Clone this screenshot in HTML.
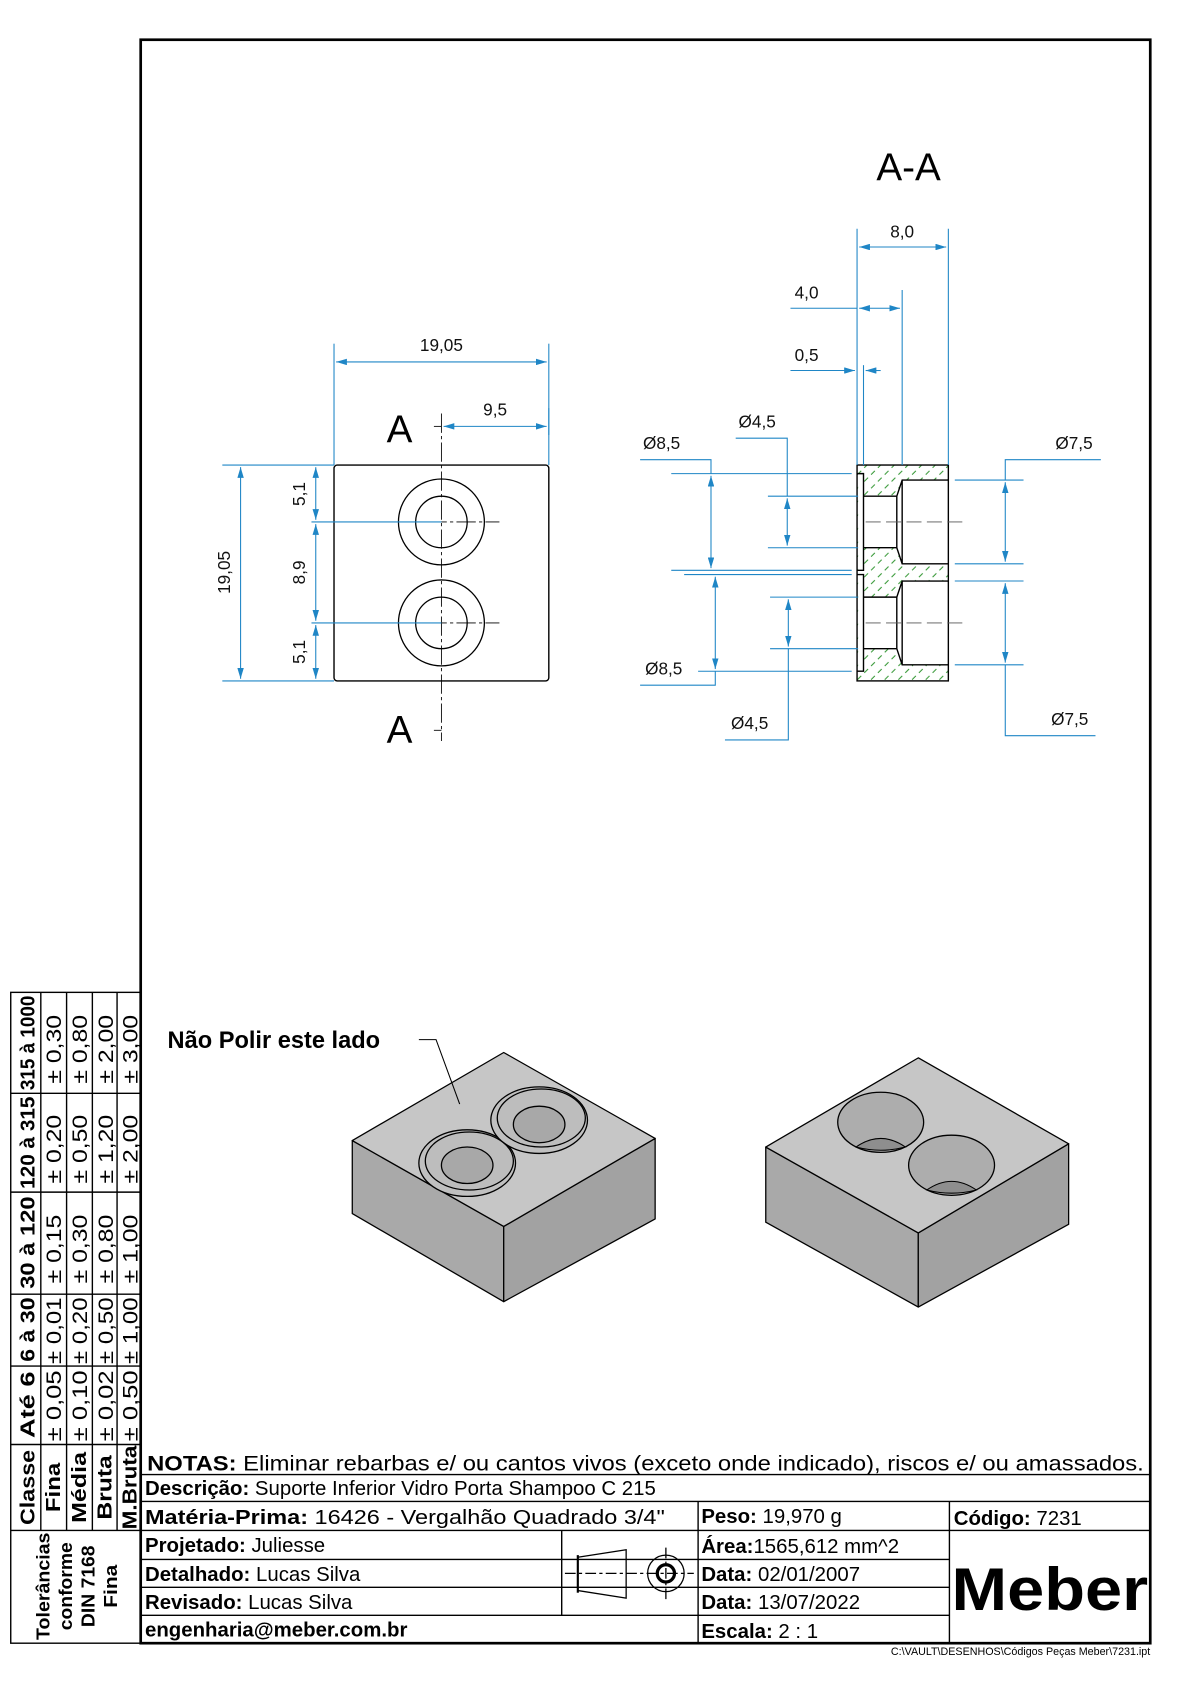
<!DOCTYPE html>
<html><head><meta charset="utf-8"><style>
html,body{margin:0;padding:0;background:#fff}
svg{display:block}
text{font-family:"Liberation Sans",Arial,sans-serif}
</style></head><body>
<svg width="1190" height="1684" viewBox="0 0 1108 1568" preserveAspectRatio="none" xmlns="http://www.w3.org/2000/svg">
<defs>
<pattern id="h" patternUnits="userSpaceOnUse" width="9" height="9" patternTransform="rotate(-45)">
<line x1="0" y1="4" x2="5" y2="4" stroke="#3a9a3a" stroke-width="1"/>
</pattern>
<marker id="a" viewBox="0 0 10 6" refX="10" refY="3" markerWidth="10" markerHeight="6" orient="auto-start-reverse" markerUnits="userSpaceOnUse"><path d="M0,0L10,3L0,6z" fill="#1f86c6"/></marker>
</defs>
<rect x="131" y="37" width="940" height="1493" fill="none" stroke="#000" stroke-width="2.5"/>

<rect x="311" y="433" width="200" height="201" rx="3" fill="none" stroke="#000" stroke-width="1.3"/>
<g fill="none" stroke="#000" stroke-width="1.2">
<circle cx="411" cy="486" r="40"/><circle cx="411" cy="486" r="24"/>
<circle cx="411" cy="580" r="40"/><circle cx="411" cy="580" r="24"/>
</g>
<g stroke="#000" stroke-width="0.8">
<line x1="411" y1="385" x2="411" y2="690" stroke-dasharray="18,3,3,3"/>
<line x1="371" y1="486" x2="465" y2="486" stroke-dasharray="18,3,3,3"/>
<line x1="371" y1="580" x2="465" y2="580" stroke-dasharray="18,3,3,3"/>
<line x1="404" y1="397" x2="411" y2="397"/><line x1="404" y1="680" x2="411" y2="680"/>
</g>
<text x="372" y="412" font-size="36" text-anchor="middle">A</text>
<text x="372" y="692" font-size="36" text-anchor="middle">A</text>

<g stroke="#1f86c6" stroke-width="1" fill="none">
<line x1="311" y1="320" x2="311" y2="433"/><line x1="511" y1="320" x2="511" y2="433"/>
<line x1="313" y1="337" x2="509" y2="337" marker-start="url(#a)" marker-end="url(#a)"/>
<line x1="511" y1="380" x2="511" y2="405"/>
<line x1="413" y1="397" x2="509" y2="397" marker-start="url(#a)" marker-end="url(#a)"/>
<line x1="207" y1="433" x2="311" y2="433"/><line x1="207" y1="634" x2="311" y2="634"/>
<line x1="224" y1="435" x2="224" y2="632" marker-start="url(#a)" marker-end="url(#a)"/>
<line x1="290" y1="486" x2="411" y2="486"/><line x1="290" y1="580" x2="411" y2="580"/>
<line x1="294" y1="435" x2="294" y2="484" marker-start="url(#a)" marker-end="url(#a)"/>
<line x1="294" y1="488" x2="294" y2="578" marker-start="url(#a)" marker-end="url(#a)"/>
<line x1="294" y1="582" x2="294" y2="632" marker-start="url(#a)" marker-end="url(#a)"/>
</g>
<g font-size="16" fill="#111">
<text x="411" y="327" text-anchor="middle">19,05</text>
<text x="461" y="387" text-anchor="middle">9,5</text>
<text transform="translate(214,533) rotate(-90)" text-anchor="middle">19,05</text>
<text transform="translate(284,460) rotate(-90)" text-anchor="middle">5,1</text>
<text transform="translate(284,533) rotate(-90)" text-anchor="middle">8,9</text>
<text transform="translate(284,607) rotate(-90)" text-anchor="middle">5,1</text>
</g>

<text x="846" y="168" font-size="36" text-anchor="middle">A-A</text>
<rect x="798" y="433" width="85" height="201" fill="url(#h)"/>
<g fill="#fff">
<rect x="799" y="441" width="5" height="90"/><rect x="799" y="535" width="5" height="90"/>
<path d="M804,462H835L840,447H883V525H840L835,510H804z"/>
<path d="M804,556H835L840,541H883V619H840L835,604H804z"/>
</g>
<g fill="none" stroke="#000" stroke-width="1.3">
<rect x="798" y="433" width="85" height="201"/>
<path d="M798,441H804V531H798"/><path d="M798,535H804V625H798"/>
<path d="M804,462H835L840,447H883M804,510H835L840,525H883M835,462V510M840,447V525"/>
<path d="M804,556H835L840,541H883M804,604H835L840,619H883M835,556V604M840,541V619"/>
</g>
<g stroke="#555" stroke-width="0.8" stroke-dasharray="14,5">
<line x1="806" y1="486" x2="896" y2="486"/><line x1="806" y1="580" x2="896" y2="580"/>
</g>
<g stroke="#1f86c6" stroke-width="1" fill="none">
<line x1="798" y1="213" x2="798" y2="433"/><line x1="883" y1="213" x2="883" y2="433"/>
<line x1="800" y1="230" x2="881" y2="230" marker-start="url(#a)" marker-end="url(#a)"/>
<line x1="840" y1="270" x2="840" y2="433"/>
<line x1="736" y1="287" x2="798" y2="287"/>
<line x1="800" y1="287" x2="838" y2="287" marker-start="url(#a)" marker-end="url(#a)"/>
<line x1="804" y1="340" x2="804" y2="433"/>
<line x1="736" y1="345" x2="796" y2="345" marker-end="url(#a)"/>
<line x1="820" y1="345" x2="806" y2="345" marker-end="url(#a)"/>
<line x1="625" y1="441" x2="793" y2="441"/><line x1="625" y1="531" x2="793" y2="531"/>
<polyline points="596,428 662,428 662,441"/>
<line x1="662" y1="443" x2="662" y2="529" marker-start="url(#a)" marker-end="url(#a)"/>
<line x1="715" y1="462" x2="799" y2="462"/><line x1="715" y1="510" x2="799" y2="510"/>
<polyline points="685,408 733,408 733,462"/>
<line x1="733" y1="464" x2="733" y2="508" marker-start="url(#a)" marker-end="url(#a)"/>
<line x1="637" y1="535" x2="793" y2="535"/><line x1="650" y1="625" x2="793" y2="625"/>
<line x1="666" y1="537" x2="666" y2="623" marker-start="url(#a)" marker-end="url(#a)"/>
<polyline points="666,625 666,638 596,638"/>
<line x1="717" y1="556" x2="799" y2="556"/><line x1="717" y1="604" x2="799" y2="604"/>
<line x1="734" y1="558" x2="734" y2="602" marker-start="url(#a)" marker-end="url(#a)"/>
<polyline points="734,604 734,689 675,689"/>
<line x1="889" y1="447" x2="953" y2="447"/><line x1="889" y1="525" x2="953" y2="525"/>
<polyline points="1025,428 936,428 936,447"/>
<line x1="936" y1="449" x2="936" y2="523" marker-start="url(#a)" marker-end="url(#a)"/>
<line x1="889" y1="541" x2="953" y2="541"/><line x1="889" y1="619" x2="953" y2="619"/>
<line x1="936" y1="543" x2="936" y2="617" marker-start="url(#a)" marker-end="url(#a)"/>
<polyline points="936,619 936,685 1020,685"/>
</g>
<g font-size="16" fill="#111">
<text x="840" y="221" text-anchor="middle">8,0</text>
<text x="751" y="278" text-anchor="middle">4,0</text>
<text x="751" y="336" text-anchor="middle">0,5</text>
<text x="616" y="418" text-anchor="middle">Ø8,5</text>
<text x="705" y="398" text-anchor="middle">Ø4,5</text>
<text x="1000" y="418" text-anchor="middle">Ø7,5</text>
<text x="618" y="628" text-anchor="middle">Ø8,5</text>
<text x="698" y="679" text-anchor="middle">Ø4,5</text>
<text x="996" y="675" text-anchor="middle">Ø7,5</text>
</g>

<g stroke="#000" stroke-width="1.2" stroke-linejoin="round">
<path d="M328,1062L469,1142L469,1212L328,1130z" fill="#a9a9a9"/>
<path d="M610,1060L469,1142L469,1212L610,1135z" fill="#a2a2a2"/>
<path d="M469,980L610,1060L469,1142L328,1062z" fill="#c6c6c6"/>
<ellipse cx="435" cy="1083" rx="45" ry="31" fill="#c0c0c0"/>
<ellipse cx="437" cy="1081" rx="41" ry="27" fill="#bdbdbd"/>
<ellipse cx="435" cy="1085" rx="24" ry="17" fill="#a8a8a8"/>
<ellipse cx="502" cy="1043" rx="45" ry="31" fill="#c0c0c0"/>
<ellipse cx="504" cy="1041" rx="41" ry="27" fill="#bdbdbd"/>
<ellipse cx="502" cy="1047" rx="24" ry="17" fill="#a8a8a8"/>
<path d="M713,1068L855,1148L855,1217L713,1138z" fill="#a9a9a9"/>
<path d="M995,1065L855,1148L855,1217L995,1140z" fill="#a2a2a2"/>
<path d="M855,985L995,1065L855,1148L713,1068z" fill="#c6c6c6"/>
<ellipse cx="820" cy="1045" rx="40" ry="28" fill="#adadad"/>
<ellipse cx="886" cy="1085" rx="40" ry="28" fill="#adadad"/>
</g>
<g stroke="#000" stroke-width="1" fill="#8e8e8e">
<path d="M797,1068Q820,1052 843,1068Q820,1074 797,1068z"/><path d="M863,1108Q886,1092 909,1108Q886,1114 863,1108z"/>
</g>
<polyline points="390,968 406,968 428,1028" stroke="#000" stroke-width="1" fill="none"/>
<text x="156" y="976" font-size="22" font-weight="bold">Não Polir este lado</text>

<g stroke="#000" stroke-width="1.3" fill="none">
<rect x="10" y="924" width="121" height="606"/>
<line x1="38" y1="924" x2="38" y2="1425"/><line x1="62" y1="924" x2="62" y2="1425"/>
<line x1="86" y1="924" x2="86" y2="1425"/><line x1="109" y1="924" x2="109" y2="1425"/>
<line x1="10" y1="1018" x2="131" y2="1018"/><line x1="10" y1="1110" x2="131" y2="1110"/>
<line x1="10" y1="1205" x2="131" y2="1205"/><line x1="10" y1="1272" x2="131" y2="1272"/>
<line x1="10" y1="1345" x2="131" y2="1345"/><line x1="10" y1="1425" x2="131" y2="1425"/>
</g>
<g font-size="19">
<g font-weight="bold">
<text transform="translate(32,971) rotate(-90)" text-anchor="middle" textLength="88" lengthAdjust="spacingAndGlyphs">315 à 1000</text>
<text transform="translate(32,1064) rotate(-90)" text-anchor="middle" textLength="86" lengthAdjust="spacingAndGlyphs">120 à 315</text>
<text transform="translate(32,1157) rotate(-90)" text-anchor="middle" textLength="86" lengthAdjust="spacingAndGlyphs">30 à 120</text>
<text transform="translate(32,1238) rotate(-90)" text-anchor="middle" textLength="60" lengthAdjust="spacingAndGlyphs">6 à 30</text>
<text transform="translate(32,1308) rotate(-90)" text-anchor="middle" textLength="62" lengthAdjust="spacingAndGlyphs">Até 6</text>
<text transform="translate(32,1385) rotate(-90)" text-anchor="middle" textLength="70" lengthAdjust="spacingAndGlyphs">Classe</text>
<text transform="translate(56,1385) rotate(-90)" text-anchor="middle" textLength="46" lengthAdjust="spacingAndGlyphs">Fina</text>
<text transform="translate(80,1385) rotate(-90)" text-anchor="middle" textLength="66" lengthAdjust="spacingAndGlyphs">Média</text>
<text transform="translate(104,1385) rotate(-90)" text-anchor="middle" textLength="60" lengthAdjust="spacingAndGlyphs">Bruta</text>
<text transform="translate(127,1385) rotate(-90)" text-anchor="middle" textLength="78" lengthAdjust="spacingAndGlyphs">M.Bruta</text>
</g>
<g font-size="20">
<text transform="translate(57,977) rotate(-90)" text-anchor="middle" textLength="64" lengthAdjust="spacingAndGlyphs">± 0,30</text>
<text transform="translate(81,977) rotate(-90)" text-anchor="middle" textLength="64" lengthAdjust="spacingAndGlyphs">± 0,80</text>
<text transform="translate(105,977) rotate(-90)" text-anchor="middle" textLength="64" lengthAdjust="spacingAndGlyphs">± 2,00</text>
<text transform="translate(128,977) rotate(-90)" text-anchor="middle" textLength="64" lengthAdjust="spacingAndGlyphs">± 3,00</text>
<text transform="translate(57,1070) rotate(-90)" text-anchor="middle" textLength="64" lengthAdjust="spacingAndGlyphs">± 0,20</text>
<text transform="translate(81,1070) rotate(-90)" text-anchor="middle" textLength="64" lengthAdjust="spacingAndGlyphs">± 0,50</text>
<text transform="translate(105,1070) rotate(-90)" text-anchor="middle" textLength="64" lengthAdjust="spacingAndGlyphs">± 1,20</text>
<text transform="translate(128,1070) rotate(-90)" text-anchor="middle" textLength="64" lengthAdjust="spacingAndGlyphs">± 2,00</text>
<text transform="translate(57,1163) rotate(-90)" text-anchor="middle" textLength="64" lengthAdjust="spacingAndGlyphs">± 0,15</text>
<text transform="translate(81,1163) rotate(-90)" text-anchor="middle" textLength="64" lengthAdjust="spacingAndGlyphs">± 0,30</text>
<text transform="translate(105,1163) rotate(-90)" text-anchor="middle" textLength="64" lengthAdjust="spacingAndGlyphs">± 0,80</text>
<text transform="translate(128,1163) rotate(-90)" text-anchor="middle" textLength="64" lengthAdjust="spacingAndGlyphs">± 1,00</text>
<text transform="translate(57,1239) rotate(-90)" text-anchor="middle" textLength="62" lengthAdjust="spacingAndGlyphs">± 0,01</text>
<text transform="translate(81,1239) rotate(-90)" text-anchor="middle" textLength="62" lengthAdjust="spacingAndGlyphs">± 0,20</text>
<text transform="translate(105,1239) rotate(-90)" text-anchor="middle" textLength="62" lengthAdjust="spacingAndGlyphs">± 0,50</text>
<text transform="translate(128,1239) rotate(-90)" text-anchor="middle" textLength="62" lengthAdjust="spacingAndGlyphs">± 1,00</text>
<text transform="translate(57,1309) rotate(-90)" text-anchor="middle" textLength="66" lengthAdjust="spacingAndGlyphs">± 0,05</text>
<text transform="translate(81,1309) rotate(-90)" text-anchor="middle" textLength="66" lengthAdjust="spacingAndGlyphs">± 0,10</text>
<text transform="translate(105,1309) rotate(-90)" text-anchor="middle" textLength="66" lengthAdjust="spacingAndGlyphs">± 0,02</text>
<text transform="translate(128,1309) rotate(-90)" text-anchor="middle" textLength="66" lengthAdjust="spacingAndGlyphs">± 0,50</text>
</g>
</g>
<g font-size="17" font-weight="bold" text-anchor="middle">
<text transform="translate(46,1477) rotate(-90)" textLength="100" lengthAdjust="spacingAndGlyphs">Tolerâncias</text>
<text transform="translate(67,1477) rotate(-90)" textLength="82" lengthAdjust="spacingAndGlyphs">conforme</text>
<text transform="translate(88,1477) rotate(-90)" textLength="76" lengthAdjust="spacingAndGlyphs">DIN 7168</text>
<text transform="translate(109,1477) rotate(-90)" textLength="40" lengthAdjust="spacingAndGlyphs">Fina</text>
</g>

<g stroke="#000" stroke-width="1.3">
<line x1="131" y1="1373" x2="1071" y2="1373"/>
<line x1="131" y1="1398" x2="1071" y2="1398"/>
<line x1="131" y1="1425" x2="1071" y2="1425"/>
<line x1="131" y1="1452" x2="884" y2="1452"/>
<line x1="131" y1="1478" x2="884" y2="1478"/>
<line x1="131" y1="1504" x2="884" y2="1504"/>
<line x1="650" y1="1398" x2="650" y2="1530"/>
<line x1="884" y1="1398" x2="884" y2="1530"/>
<line x1="523" y1="1425" x2="523" y2="1504"/>
</g>
<g stroke="#000" stroke-width="1.2" fill="none">
<path d="M538,1450L583,1443V1488L538,1481z"/>
<line x1="538" y1="1448" x2="538" y2="1483" stroke-width="2"/>
<line x1="526" y1="1465" x2="646" y2="1465" stroke-dasharray="10,3,3,3"/>
<line x1="620" y1="1441" x2="620" y2="1490" stroke-dasharray="10,3,3,3"/>
<circle cx="620" cy="1465" r="17"/><circle cx="620" cy="1465" r="8" stroke-width="3"/>
</g>
<g font-size="20">
<text x="137" y="1369" textLength="928" lengthAdjust="spacingAndGlyphs"><tspan font-weight="bold">NOTAS:</tspan> Eliminar rebarbas e/ ou cantos vivos (exceto onde indicado), riscos e/ ou amassados.</text>
<text x="135" y="1392" font-size="19"><tspan font-weight="bold">Descrição:</tspan> Suporte Inferior Vidro Porta Shampoo C 215</text>
<text x="135" y="1419" font-size="19" textLength="484" lengthAdjust="spacingAndGlyphs"><tspan font-weight="bold">Matéria-Prima:</tspan> 16426 - Vergalhão Quadrado 3/4"</text>
<text x="135" y="1445" font-size="19"><tspan font-weight="bold">Projetado:</tspan> Juliesse</text>
<text x="135" y="1472" font-size="19"><tspan font-weight="bold">Detalhado:</tspan> Lucas Silva</text>
<text x="135" y="1498" font-size="19"><tspan font-weight="bold">Revisado:</tspan> Lucas Silva</text>
<text x="135" y="1524" font-size="19" font-weight="bold">engenharia@meber.com.br</text>
<text x="653" y="1418" font-size="19"><tspan font-weight="bold">Peso:</tspan> 19,970 g</text>
<text x="653" y="1446" font-size="19"><tspan font-weight="bold">Área:</tspan>1565,612 mm^2</text>
<text x="653" y="1472" font-size="19"><tspan font-weight="bold">Data:</tspan> 02/01/2007</text>
<text x="653" y="1498" font-size="19"><tspan font-weight="bold">Data:</tspan> 13/07/2022</text>
<text x="653" y="1525" font-size="19"><tspan font-weight="bold">Escala:</tspan> 2 : 1</text>
<text x="888" y="1420" font-size="19"><tspan font-weight="bold">Código:</tspan> 7231</text>
</g>
<text x="886" y="1499" font-size="56" font-weight="bold" textLength="183" lengthAdjust="spacingAndGlyphs">Meber</text>
<text x="1071" y="1541" font-size="10" text-anchor="end">C:\VAULT\DESENHOS\Códigos Peças Meber\7231.ipt</text>
</svg>
</body></html>
